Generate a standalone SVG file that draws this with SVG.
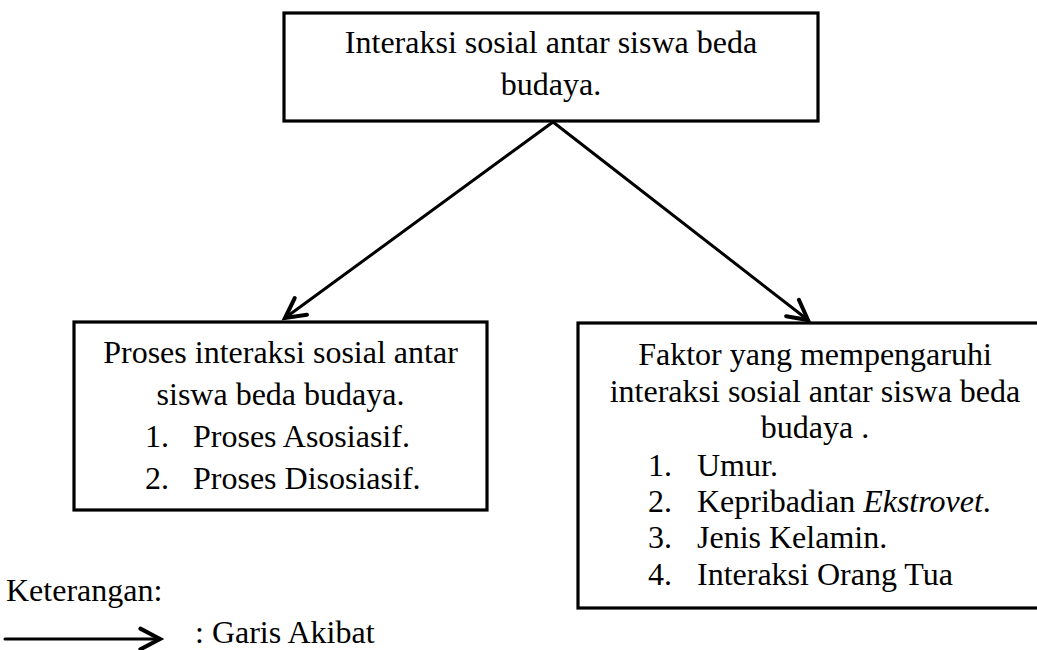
<svg xmlns="http://www.w3.org/2000/svg" width="1037" height="650" viewBox="0 0 1037 650">
<defs>
<style>
.box{fill:#fff;stroke:#000;stroke-width:3.2}
.t{font-family:"Liberation Serif","Times New Roman",serif;font-size:32px;fill:#000}
.c{text-anchor:middle}
.con{stroke:#000;stroke-width:3;fill:none;stroke-linecap:round}
</style>
<marker id="arr" markerUnits="userSpaceOnUse" markerWidth="30" markerHeight="30" refX="0" refY="0" viewBox="-22 -12 26 24" orient="auto">
<path d="M -17 -9 L 0 0 L -17 9" fill="none" stroke="#000" stroke-width="3.5" stroke-linecap="round" stroke-linejoin="miter"/>
</marker>
</defs>
<rect width="1037" height="650" fill="#fff"/>
<g id="connectors">
<line class="con" x1="553" y1="122" x2="285" y2="318" marker-end="url(#arr)"/>
<line class="con" x1="553" y1="122" x2="808" y2="320" marker-end="url(#arr)"/>
</g>
<g id="node-top">
<rect class="box" x="284" y="13" width="534" height="108"/>
<text class="t c" x="551" y="53">Interaksi sosial antar siswa beda</text>
<text class="t c" x="551" y="95">budaya.</text>
</g>
<g id="node-left">
<rect class="box" x="74" y="322" width="413" height="188"/>
<text class="t c" x="280.5" y="363">Proses interaksi sosial antar</text>
<text class="t c" x="280.5" y="405">siswa beda budaya.</text>
<text class="t" x="145" y="447">1.</text><text class="t" x="193" y="447">Proses Asosiasif.</text>
<text class="t" x="145" y="489">2.</text><text class="t" x="193" y="489">Proses Disosiasif.</text>
</g>
<g id="node-right">
<rect class="box" x="578" y="323" width="480" height="285"/>
<text class="t c" x="815" y="365">Faktor yang mempengaruhi</text>
<text class="t c" x="815" y="402">interaksi sosial antar siswa beda</text>
<text class="t c" x="815" y="438">budaya .</text>
<text class="t" x="648" y="476">1.</text><text class="t" x="697" y="476">Umur.</text>
<text class="t" x="648" y="512">2.</text><text class="t" x="697" y="512">Kepribadian <tspan font-style="italic">Ekstrovet</tspan>.</text>
<text class="t" x="648" y="548">3.</text><text class="t" x="697" y="548">Jenis Kelamin.</text>
<text class="t" x="648" y="585">4.</text><text class="t" x="697" y="585">Interaksi Orang Tua</text>
</g>
<g id="legend">
<text class="t" x="6" y="601">Keterangan:</text>
<line class="con" x1="5" y1="639" x2="160" y2="639" marker-end="url(#arr)"/>
<text class="t" x="195" y="643">: Garis Akibat</text>
</g>
</svg>
